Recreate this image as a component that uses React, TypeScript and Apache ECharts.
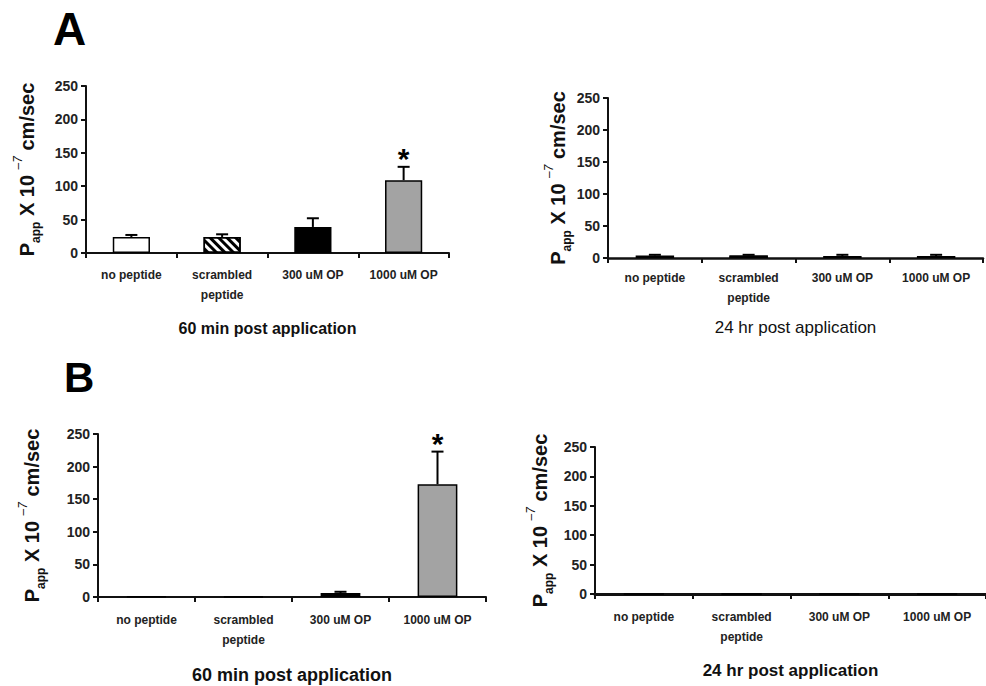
import React, { useEffect, useRef } from "react";
import * as echarts from "echarts";

const categories = ["no peptide", "scrambled\npeptide", "300 uM OP", "1000 uM OP"];
const yTicks = { min: 0, max: 250, interval: 50 };

const a60Values = [24, 24, 39, 109];
const a60Errors = [3, 4, 13, 20];
const a60Significant = [false, false, false, true];

const a24Values = [4, 4, 3, 3];
const a24Errors = [1, 1, 2, 2];
const a24Significant = [false, false, false, false];

const b60Values = [1, 1, 6, 173];
const b60Errors = [0, 0, 2, 50];
const b60Significant = [false, false, false, true];

const b24Values = [0, 0, 0, 0];
const b24Errors = [0, 0, 0, 0];
const b24Significant = [false, false, false, false];

const titles = ["60 min post application", "24 hr post application", "60 min post application", "24 hr post application"];
const panelLetters = ["A", "B"];

const FONT = 'Arial, "Liberation Sans", Helvetica, sans-serif';

const hatch = {
  color: "#000",
  backgroundColor: "#fff",
  symbol: "rect",
  symbolSize: 1,
  dashArrayX: [1, 0],
  dashArrayY: [3, 3],
  rotation: Math.PI / 4,
};

function barStyles() {
  return [
    { color: "#ffffff" },
    { color: "#ffffff", decal: hatch },
    { color: "#000000" },
    { color: "#a3a3a3" },
  ];
}

const yName = "{p|P}{sub|app}{p| X 10 }{sup|\u20137}{p| cm/sec}";

function panel(idx: number, values: number[], errors: number[], sig: boolean[], cfg: any) {
  const styles = barStyles();
  const grid = { left: cfg.left, top: cfg.top, width: cfg.width, height: cfg.height, containLabel: false };
  const xAxis = {
    gridIndex: idx,
    type: "category",
    data: categories,
    axisLine: { lineStyle: { color: "#111", width: cfg.xw } },
    axisTick: { show: true, length: 5, interval: 0, alignWithLabel: false, lineStyle: { color: "#111", width: 2 } },
    axisLabel: {
      interval: 0,
      fontFamily: FONT,
      fontWeight: "bold",
      fontSize: 12,
      lineHeight: 20,
      margin: cfg.labelMargin,
      color: "#222",
    },
    name: titles[idx],
    nameLocation: "middle",
    nameGap: cfg.titleGap,
    nameTextStyle: { fontFamily: FONT, fontSize: cfg.titleSize, fontWeight: cfg.titleWeight, color: "#111" },
  };
  const yAxis = {
    gridIndex: idx,
    type: "value",
    min: yTicks.min,
    max: yTicks.max,
    interval: yTicks.interval,
    splitLine: { show: false },
    axisLine: { show: true, lineStyle: { color: "#111", width: 2 } },
    axisTick: { show: true, length: 5, lineStyle: { color: "#111", width: 2 } },
    axisLabel: { fontFamily: FONT, fontWeight: "bold", fontSize: 14, color: "#222", margin: 8 },
    name: yName,
    nameLocation: "middle",
    nameRotate: 90,
    nameGap: cfg.nameGap,
    nameTextStyle: {
      rich: {
        p: { fontFamily: FONT, fontSize: 20, fontWeight: "bold", color: "#111", lineHeight: 30 },
        sub: { fontFamily: FONT, fontSize: 12, fontWeight: "bold", color: "#111", verticalAlign: "bottom", lineHeight: 30 },
        sup: { fontFamily: FONT, fontSize: 12, fontStyle: "italic", color: "#111", verticalAlign: "top", lineHeight: 30 },
      },
    },
  };
  const bar = {
    type: "bar",
    xAxisIndex: idx,
    yAxisIndex: idx,
    barWidth: "41%",
    data: values.map((v, i) => ({
      value: v,
      itemStyle: { ...styles[i], borderColor: "#000", borderWidth: 1.5 },
    })),
  };
  const err = {
    type: "custom",
    xAxisIndex: idx,
    yAxisIndex: idx,
    data: values.map((v, i) => [i, v, errors[i], sig[i] ? 1 : 0]),
    renderItem: (params: any, api: any) => {
      const x = api.value(0);
      const v = api.value(1);
      const e = api.value(2);
      const s = api.value(3);
      const base = api.coord([x, v]);
      const top = api.coord([x, v + e]);
      const children: any[] = [];
      if (e > 0) {
        children.push({
          type: "line",
          shape: { x1: base[0], y1: base[1], x2: top[0], y2: top[1] },
          style: { stroke: "#000", lineWidth: 2 },
        });
        children.push({
          type: "line",
          shape: { x1: top[0] - 6, y1: top[1], x2: top[0] + 6, y2: top[1] },
          style: { stroke: "#000", lineWidth: 2 },
        });
      }
      if (s) {
        children.push({
          type: "text",
          style: {
            text: "*",
            x: top[0],
            y: top[1] - 8,
            textAlign: "center",
            textVerticalAlign: "middle",
            font: `bold 30px ${FONT}`,
            fill: "#000",
          },
        });
      }
      return { type: "group", children };
    },
    z: 5,
  };
  return { grid, xAxis, yAxis, series: [bar, err] };
}

export default function App() {
  const ref = useRef<HTMLDivElement>(null);
  useEffect(() => {
    if (!ref.current) return;
    const chart = echarts.init(ref.current, undefined, { renderer: "svg" });
    const panels = [
      panel(0, a60Values, a60Errors, a60Significant, {
        left: 86, top: 86, width: 363, height: 167, xw: 2, labelMargin: 12, titleGap: 67, titleSize: 16, titleWeight: "bold", nameGap: 44,
      }),
      panel(1, a24Values, a24Errors, a24Significant, {
        left: 608, top: 98, width: 375, height: 160, xw: 2.5, labelMargin: 10, titleGap: 61, titleSize: 17, titleWeight: "normal", nameGap: 35,
      }),
      panel(2, b60Values, b60Errors, b60Significant, {
        left: 98, top: 434, width: 388, height: 163, xw: 2, labelMargin: 13, titleGap: 69, titleSize: 18, titleWeight: "bold", nameGap: 51,
      }),
      panel(3, b24Values, b24Errors, b24Significant, {
        left: 595, top: 447, width: 392, height: 147, xw: 3, labelMargin: 13, titleGap: 68, titleSize: 17, titleWeight: "bold", nameGap: 40,
      }),
    ];
    const option: any = {
      animation: false,
      backgroundColor: "#ffffff",
      grid: panels.map((p) => p.grid),
      xAxis: panels.map((p) => p.xAxis),
      yAxis: panels.map((p) => p.yAxis),
      series: panels.flatMap((p) => p.series),
      graphic: [
        { type: "text", left: 53, top: 6, style: { text: panelLetters[0], font: `bold 46px ${FONT}`, fill: "#000" } },
        { type: "text", left: 64, top: 356, style: { text: panelLetters[1], font: `bold 42px ${FONT}`, fill: "#000" } },
      ],
    };
    chart.setOption(option);
    return () => chart.dispose();
  }, []);
  return (
    <div
      ref={ref}
      style={{ position: "fixed", left: 0, top: 0, width: 986, height: 686, background: "#fff" }}
    />
  );
}
